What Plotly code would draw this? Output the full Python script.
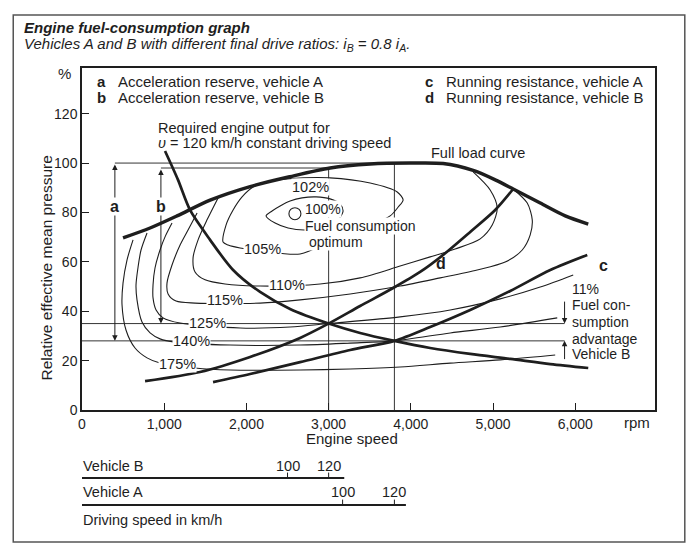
import plotly.graph_objects as go

# ---------------- data: engine speed (rpm) vs relative effective mean pressure (%) ----------------
full_load_rpm = [499, 828, 1156, 1558, 2045, 2531, 3018, 3505, 3992, 4393, 4758, 5026, 5245, 5574, 5878, 6158]
full_load_pct = [69.7, 73.7, 78.6, 85.0, 90.5, 94.5, 98.0, 99.6, 100.0, 99.8, 97.0, 93.2, 89.5, 83.8, 78.6, 75.3]

required_rpm = [1010, 1168, 1314, 1558, 1838, 2166, 2531, 3000, 3383, 3800, 4235, 4722, 5209, 5696, 6158]
required_pct = [104.9, 93.2, 81.0, 68.9, 56.7, 47.8, 40.9, 35.0, 31.2, 28.0, 25.1, 22.7, 20.7, 18.6, 17.0]

curve_d_rpm = [767, 1436, 2045, 2653, 3000, 3383, 3785, 4113, 4393, 4722, 5026, 5245]
curve_d_pct = [11.7, 15.4, 21.5, 29.2, 35.0, 42.1, 49.4, 55.9, 62.8, 72.1, 81.0, 89.5]

curve_c_rpm = [1594, 2045, 2653, 3262, 3800, 4235, 4722, 5209, 5696, 6146]
curve_c_pct = [11.3, 14.6, 19.4, 24.3, 28.0, 33.6, 40.5, 48.2, 56.7, 62.8]

c102_rpm = [2239, 2312, 2410, 2531, 2677, 2848, 3018, 3140, 3176, 3116, 2957, 2714, 2507, 2349, 2239]
c102_pct = [78.6, 80.6, 82.6, 84.6, 85.9, 86.3, 85.5, 83.4, 80.6, 77.0, 74.1, 72.9, 73.7, 75.7, 78.6]

c105_rpm = [1716, 1752, 1838, 1947, 2081, 2288, 2495, 3018, 3505, 3834, 3906, 3846, 3748, 3383, 3055, 2653, 2191, 1923, 1777, 1716]
c105_pct = [68.0, 74.9, 81.0, 86.3, 90.3, 92.7, 93.6, 94.0, 91.9, 88.3, 85.1, 82.2, 78.6, 73.3, 68.9, 63.2, 64.4, 65.6, 66.8, 68.0]

c110_rpm = [1655, 1521, 1412, 1351, 1375, 1497, 1740, 2166, 2896, 3383, 3870, 4235, 4539, 4844, 4990, 5051, 4965, 4758]
c110_pct = [85.9, 77.0, 68.9, 61.6, 55.9, 52.7, 51.0, 50.2, 51.0, 53.5, 58.3, 62.0, 65.2, 69.3, 74.9, 81.8, 89.1, 96.4]

c115_rpm = [1400, 1290, 1193, 1095, 1034, 1047, 1144, 1375, 2166, 2653, 3262, 3870, 4357, 4807, 5148, 5355, 5452, 5477, 5416, 5245]
c115_pct = [79.8, 72.9, 66.8, 58.7, 51.4, 47.0, 44.1, 43.3, 43.3, 44.6, 47.0, 50.2, 53.5, 56.7, 59.9, 64.8, 70.9, 77.0, 83.8, 89.5]

c125_rpm = [1095, 1010, 949, 888, 864, 864, 901, 986, 1193, 1923, 2531, 3000, 3870, 4479, 5087, 5574, 5975]
c125_pct = [75.7, 70.1, 64.8, 57.5, 50.6, 45.4, 40.5, 37.3, 35.2, 33.2, 33.6, 35.0, 37.7, 40.5, 45.0, 49.8, 54.7]

c140_rpm = [791, 718, 682, 657, 669, 730, 828, 949, 1132, 1801, 2653, 3262, 3800, 4479, 5087, 5781]
c140_pct = [71.7, 64.8, 57.9, 50.6, 44.6, 35.6, 31.2, 28.8, 27.5, 26.3, 26.3, 27.1, 28.0, 31.2, 33.6, 37.3]

c175_rpm = [621, 548, 499, 487, 535, 645, 791, 949, 1375, 1801, 2653, 3262, 3870, 4479, 5087, 5756]
c175_pct = [68.9, 60.8, 51.4, 42.5, 32.4, 25.1, 21.1, 19.0, 17.0, 16.2, 16.2, 16.6, 17.4, 19.0, 20.3, 22.3]

optimum_rpm = [2590]
optimum_pct = [79.5]

# operating points at 120 km/h and reference levels
point_b_rpm, point_b_pct = 3000, 35      # vehicle B
point_a_rpm, point_a_pct = 3800, 28      # vehicle A
full_a_pct, full_b_pct = 100, 98          # full load at those speeds
reserve_a_rpm, reserve_b_rpm = 400, 960   # arrows a / b
advantage_rpm = 5870                      # 11 % arrows

x_tick_vals = [0, 1000, 2000, 3000, 4000, 5000, 6000]
x_tick_text = ["0", "1,000", "2,000", "3,000", "4,000", "5,000", "6,000"]
y_tick_vals = [0, 20, 40, 60, 80, 100, 120]

veh_b_speeds = [100, 120]
veh_b_rpm = [2500, 3000]
veh_b_scale_end = 3190
veh_a_speeds = [100, 120]
veh_a_rpm = [3170, 3800]
veh_a_scale_end = 3940

advantage_lines = ["11%", "Fuel con-", "sumption", "advantage", "Vehicle B"]
optimum_lines = ["100%", "Fuel consumption", " optimum"]

# ---------------- figure ----------------
INK = "#1e1e1e"
FONT = "Liberation Sans, Arial, Helvetica, sans-serif"
FS = 14.5
fig = go.Figure()

def add_line(x, y, width, shape="spline"):
    fig.add_trace(go.Scatter(x=x, y=y, mode="lines",
                             line=dict(color=INK, width=width, shape=shape, smoothing=0.8),
                             hoverinfo="skip", showlegend=False))

# reference lines (thin, straight)
add_line([reserve_a_rpm, point_a_rpm], [full_a_pct, full_a_pct], 0.9, "linear")
add_line([reserve_b_rpm, point_b_rpm], [full_b_pct, full_b_pct], 0.9, "linear")
add_line([0, advantage_rpm], [point_b_pct, point_b_pct], 0.9, "linear")
add_line([0, advantage_rpm], [point_a_pct, point_a_pct], 0.9, "linear")
add_line([point_b_rpm, point_b_rpm], [0, full_b_pct], 0.9, "linear")
add_line([point_a_rpm, point_a_rpm], [0, full_a_pct], 0.9, "linear")

# consumption contours (thin)
for xs, ys in [(c102_rpm, c102_pct), (c105_rpm, c105_pct), (c110_rpm, c110_pct),
               (c115_rpm, c115_pct), (c125_rpm, c125_pct), (c140_rpm, c140_pct),
               (c175_rpm, c175_pct)]:
    add_line(xs, ys, 1.1)

# thick curves
add_line(full_load_rpm, full_load_pct, 3.4)
add_line(required_rpm, required_pct, 2.7)
add_line(curve_d_rpm, curve_d_pct, 2.7)
add_line(curve_c_rpm, curve_c_pct, 2.7)

fig.add_trace(go.Scatter(x=optimum_rpm, y=optimum_pct, mode="markers",
                         marker=dict(symbol="circle-open", size=12, color=INK, line=dict(width=1.1)),
                         hoverinfo="skip", showlegend=False))

ann = []

def txt(x, y, s, size=FS, xanchor="center", yanchor="middle", bg="white", xref="x", yref="y",
        align="center", angle=0):
    ann.append(dict(x=x, y=y, text=s, xref=xref, yref=yref, showarrow=False,
                    xanchor=xanchor, yanchor=yanchor, align=align, textangle=angle,
                    bgcolor=bg, borderpad=0,
                    font=dict(family=FONT, size=size, color=INK)))

def arrow(x, y, ax, ay, both=False):
    ann.append(dict(x=x, y=y, ax=ax, ay=ay, xref="x", yref="y", axref="x", ayref="y",
                    text="", showarrow=True, arrowhead=2, startarrowhead=2,
                    arrowside="end+start" if both else "end",
                    arrowsize=1.1, arrowwidth=1, arrowcolor=INK, standoff=0, startstandoff=0))

arrow(reserve_a_rpm, point_a_pct, reserve_a_rpm, full_a_pct, both=True)
arrow(reserve_b_rpm, point_b_pct, reserve_b_rpm, full_b_pct, both=True)
arrow(advantage_rpm, point_b_pct, advantage_rpm, 44.5)
arrow(advantage_rpm, point_a_pct, advantage_rpm, 20)

# curve labels
txt(reserve_a_rpm, 82.6, "<b>a</b>", 16)
txt(reserve_b_rpm, 82.6, "<b>b</b>", 16)
txt(6340, 58.7, "<b>c</b>", 16, bg=None)
txt(4370, 59.5, "<b>d</b>", 16, bg=None)
txt(2775, 90.3, "102%")
txt(2190, 65.2, "105%")
txt(2495, 50.6, "110%")
txt(1740, 44.6, "115%")
txt(1521, 35.4, "125%")
txt(1327, 28.0, "140%")
txt(1156, 18.6, "175%")
for yv, s in zip([81.2, 74.6, 68.0], optimum_lines):
    txt(2700, yv, s, 14, xanchor="left")
txt(4235, 104.0, "Full load curve", xanchor="left", bg=None)
txt(913, 114.2, "Required engine output for", xanchor="left", bg=None)
txt(913, 108.1, "<i>υ</i> = 120 km/h constant driving speed", xanchor="left", bg=None)
for yv, s in zip([49.0, 42.4, 35.6, 28.8, 22.6], advantage_lines):
    txt(5950, yv, s, 14, xanchor="left", bg=None)

# key texts
KS = 15
txt(170, 133.1, "<b>a</b>", KS, xanchor="left", bg=None)
txt(426, 133.1, "Acceleration reserve, vehicle A", KS, xanchor="left", bg=None)
txt(170, 126.6, "<b>b</b>", KS, xanchor="left", bg=None)
txt(426, 126.6, "Acceleration reserve, vehicle B", KS, xanchor="left", bg=None)
txt(4162, 133.1, "<b>c</b>", KS, xanchor="left", bg=None)
txt(4418, 133.1, "Running resistance, vehicle A", KS, xanchor="left", bg=None)
txt(4162, 126.6, "<b>d</b>", KS, xanchor="left", bg=None)
txt(4418, 126.6, "Running resistance, vehicle B", KS, xanchor="left", bg=None)

# axis texts
txt(-0.018, 0.985, "%", 15, xref="paper", yref="paper", xanchor="right", bg=None)
txt(6754, -0.036, "rpm", 15, yref="paper", bg=None)
txt(3286, -0.083, "Engine speed", 15, yref="paper", bg=None)
txt(-0.062, 0.415, "Relative effective mean pressure", 15.5, xref="paper", yref="paper", angle=-90, bg=None)

# titles
txt(-0.103, 1.118, "<b><i>Engine fuel-consumption graph</i></b>", 15, xref="paper", yref="paper",
    xanchor="left", bg=None)
txt(-0.103, 1.070, "<i>Vehicles A and B with different final drive ratios: i<sub>B</sub> = 0.8 i<sub>A</sub>.</i>",
    15, xref="paper", yref="paper", xanchor="left", bg=None)

# driving-speed scales below the rpm axis
shapes = []
yb, ya = -0.199, -0.278
shapes.append(dict(type="line", xref="x", yref="paper", x0=0, x1=veh_b_scale_end, y0=yb, y1=yb,
                   line=dict(color=INK, width=2)))
shapes.append(dict(type="line", xref="x", yref="paper", x0=0, x1=veh_a_scale_end, y0=ya, y1=ya,
                   line=dict(color=INK, width=2)))
for r, s in zip(veh_b_rpm, veh_b_speeds):
    shapes.append(dict(type="line", xref="x", yref="paper", x0=r, x1=r, y0=yb, y1=yb + 0.016,
                       line=dict(color=INK, width=1)))
    txt(r, yb + 0.034, str(s), yref="paper", bg=None)
for r, s in zip(veh_a_rpm, veh_a_speeds):
    shapes.append(dict(type="line", xref="x", yref="paper", x0=r, x1=r, y0=ya, y1=ya + 0.016,
                       line=dict(color=INK, width=1)))
    txt(r, ya + 0.038, str(s), yref="paper", bg=None)
txt(0, yb + 0.034, "Vehicle B", yref="paper", xanchor="left", bg=None)
txt(0, ya + 0.038, "Vehicle A", yref="paper", xanchor="left", bg=None)
txt(0, -0.322, "Driving speed in km/h", yref="paper", xanchor="left", bg=None)

# outer frame
shapes.append(dict(type="rect", xref="paper", yref="paper", x0=-0.120, x1=1.052, y0=-0.386, y1=1.155,
                   line=dict(color="#555555", width=1.5), layer="below"))

fig.update_layout(
    width=688, height=543,
    margin=dict(l=74, r=41, t=60, b=141),
    paper_bgcolor="white", plot_bgcolor="white",
    showlegend=False,
    font=dict(family=FONT, size=FS, color=INK),
    annotations=ann, shapes=shapes,
    xaxis=dict(range=[0, 6970], tickvals=x_tick_vals, ticktext=x_tick_text,
               ticks="inside", ticklen=7, tickwidth=1, tickcolor=INK,
               showline=True, linecolor=INK, linewidth=1.5, mirror=True,
               showgrid=False, zeroline=False, tickfont=dict(size=14)),
    yaxis=dict(range=[0, 138.5], tickvals=y_tick_vals,
               ticks="inside", ticklen=7, tickwidth=1, tickcolor=INK,
               showline=True, linecolor=INK, linewidth=1.5, mirror=True,
               showgrid=False, zeroline=False, tickfont=dict(size=14)),
)

fig.write_html("out.html")
